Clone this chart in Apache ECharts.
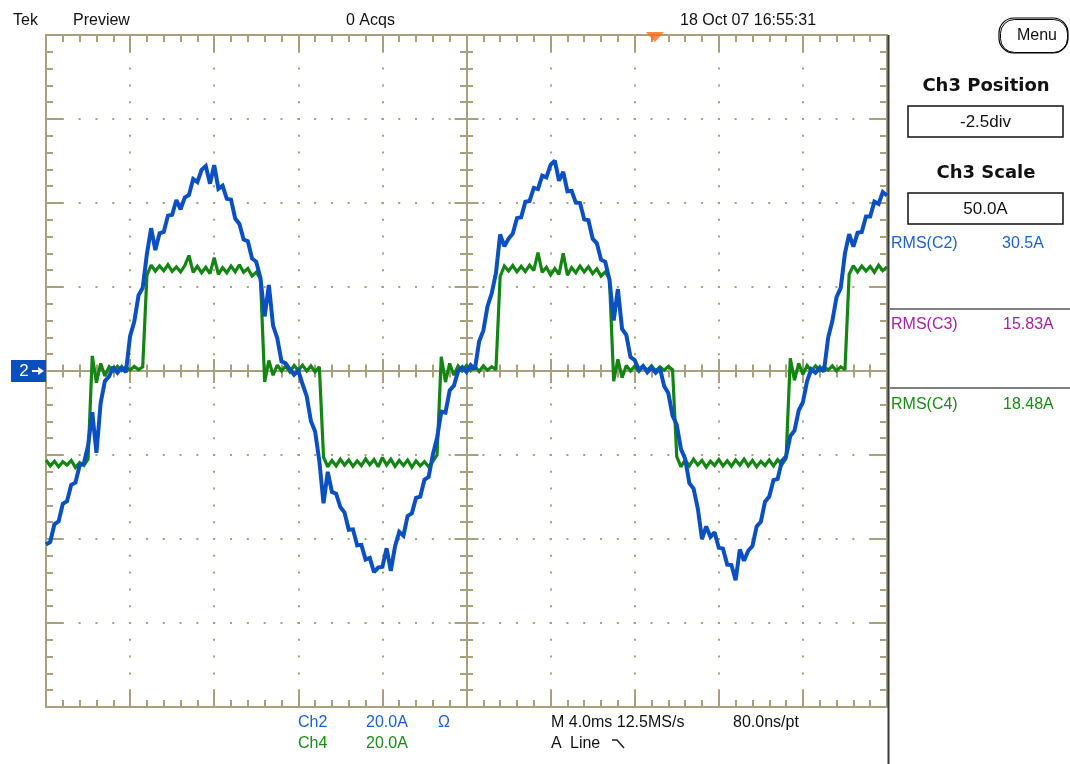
<!DOCTYPE html>
<html>
<head>
<meta charset="utf-8">
<script src="https://cdn.jsdelivr.net/npm/echarts@6/dist/echarts.min.js"></script>
<style>
html,body{margin:0;padding:0;background:#ffffff;}
#chart{width:1070px;height:764px;}
</style>
</head>
<body>
<div id="chart"></div>
<script>
// Sample times (ms), 0.2 ms apart across the 10-division, 4 ms/div screen
const timeMs = [
  0,0.2,0.4,0.6,0.8,1,1.2,1.4,1.6,1.8,
  2,2.2,2.4,2.6,2.8,3,3.2,3.4,3.6,3.8,
  4,4.2,4.4,4.6,4.8,5,5.2,5.4,5.6,5.8,
  6,6.2,6.4,6.6,6.8,7,7.2,7.4,7.6,7.8,
  8,8.2,8.4,8.6,8.8,9,9.2,9.4,9.6,9.8,
  10,10.2,10.4,10.6,10.8,11,11.2,11.4,11.6,11.8,
  12,12.2,12.4,12.6,12.8,13,13.2,13.4,13.6,13.8,
  14,14.2,14.4,14.6,14.8,15,15.2,15.4,15.6,15.8,
  16,16.2,16.4,16.6,16.8,17,17.2,17.4,17.6,17.8,
  18,18.2,18.4,18.6,18.8,19,19.2,19.4,19.6,19.8,
  20,20.2,20.4,20.6,20.8,21,21.2,21.4,21.6,21.8,
  22,22.2,22.4,22.6,22.8,23,23.2,23.4,23.6,23.8,
  24,24.2,24.4,24.6,24.8,25,25.2,25.4,25.6,25.8,
  26,26.2,26.4,26.6,26.8,27,27.2,27.4,27.6,27.8,
  28,28.2,28.4,28.6,28.8,29,29.2,29.4,29.6,29.8,
  30,30.2,30.4,30.6,30.8,31,31.2,31.4,31.6,31.8,
  32,32.2,32.4,32.6,32.8,33,33.2,33.4,33.6,33.8,
  34,34.2,34.4,34.6,34.8,35,35.2,35.4,35.6,35.8,
  36,36.2,36.4,36.6,36.8,37,37.2,37.4,37.6,37.8,
  38,38.2,38.4,38.6,38.8,39,39.2,39.4,39.6,39.8,
  40
];

// Ch2 current (A), blue trace
const ch2Amps = [
  -41.3,-40.7,-36.5,-35.8,-31.6,-31.0,-27.1,-26.6,-22.5,-22.0,
  -17.8,-9.8,-19.5,-7.6,-2.4,-1.3,1.0,-0.4,0.9,-0.3,
  8.3,11.8,18.0,19.8,27.9,34.0,28.8,32.8,33.1,37.0,
  37.2,40.7,38.5,41.3,41.9,45.7,45.0,47.9,48.8,44.6,
  49.0,43.4,44.1,41.0,40.8,36.3,35.0,31.3,30.9,26.8,
  26.0,22.1,13.0,20.5,10.8,7.8,2.3,1.8,0.4,-0.9,
  0.1,-3.1,-6.0,-11.9,-14.4,-21.4,-31.5,-24.0,-28.8,-29.2,
  -32.4,-33.7,-37.8,-37.7,-41.5,-41.4,-44.9,-44.5,-47.9,-46.8,
  -46.6,-42.2,-47.6,-41.8,-38.3,-39.2,-34.5,-33.9,-30.2,-29.9,
  -25.9,-25.2,-19.9,-15.9,-9.7,-9.9,-4.6,-3.5,-0.1,0.9,
  -0.2,1.4,0.4,7.0,9.6,15.4,18.5,23.3,32.5,29.7,
  31.5,32.7,36.4,36.6,40.3,40.5,43.6,43.3,46.5,46.1,
  49.1,50.1,45.3,47.4,42.8,42.9,40.1,40.0,36.1,35.9,
  31.5,30.4,26.5,26.0,21.7,12.0,19.5,10.0,8.6,3.3,
  2.6,0.3,1.2,-0.3,0.8,-0.4,0.7,-3.6,-5.3,-10.6,
  -12.8,-18.6,-20.9,-26.7,-28.0,-32.7,-40.0,-37.0,-39.5,-38.4,
  -42.1,-42.3,-46.1,-46.2,-49.8,-42.5,-45.2,-42.8,-41.7,-37.0,
  -35.9,-31.1,-29.9,-26.0,-25.7,-21.4,-20.3,-15.5,-14.2,-9.4,
  -7.4,-2.4,0.4,-0.4,0.8,-0.1,7.9,11.9,17.6,19.8,
  28.0,32.6,29.6,32.9,33.1,36.8,36.8,40.3,39.8,42.6,
  41.8
];

// Ch4 current (A), green trace
const ch4Amps = [
  -21.2,-22.6,-21.5,-22.8,-21.6,-22.4,-21.3,-23.0,-21.8,-22.5,
  -21.0,3.6,-2.8,1.8,-1.2,1.0,0.0,1.1,0.1,1.0,
  0.2,1.1,0.3,1.0,22.8,25.2,23.8,25.0,23.9,25.3,
  23.7,24.8,23.6,25.1,27.5,23.5,24.9,23.4,24.7,23.2,
  27.0,23.0,24.6,23.4,25.0,23.6,25.3,23.5,24.4,22.6,
  23.5,22.0,-2.6,2.5,-1.0,1.4,0.0,1.2,-0.2,1.3,
  0.1,1.4,0.0,1.2,-0.2,1.0,-20.5,-22.8,-21.3,-22.6,
  -21.0,-22.4,-21.2,-22.7,-21.4,-22.5,-20.9,-22.3,-21.1,-22.8,
  -20.6,-22.4,-21.0,-22.7,-21.3,-22.5,-21.2,-22.9,-21.4,-22.6,
  -21.6,-22.8,-21.5,-20.0,3.4,-2.6,1.8,-1.0,1.2,0.0,
  1.3,0.1,1.1,-0.1,1.2,0.2,1.0,0.3,22.5,25.0,
  23.8,25.1,23.6,24.9,23.7,25.2,23.9,28.2,23.5,24.7,
  22.9,24.4,23.0,28.0,22.8,24.6,23.4,25.0,23.6,24.8,
  23.2,24.3,22.6,23.6,22.0,-2.4,2.8,-1.6,1.3,0.0,
  1.2,-0.1,1.1,0.2,1.2,0.0,1.0,0.2,1.1,0.3,
  -20.4,-22.8,-21.2,-22.6,-21.0,-22.4,-21.3,-22.9,-21.5,-22.5,
  -21.1,-22.6,-21.4,-22.7,-21.2,-22.4,-21.0,-22.6,-21.3,-22.8,
  -21.5,-22.5,-21.2,-22.6,-21.1,-22.3,-20.8,3.0,-2.2,1.8,
  -0.8,1.3,0.0,1.2,0.1,1.1,0.2,1.2,0.0,1.0,
  0.3,23.0,25.1,23.6,25.0,23.8,24.9,23.5,25.2,23.9,
  24.8
];

// Trigger position (ms) shown by the orange marker on the top edge
const triggerTimeMs = [28.96];

// Axis ranges: 10 div x 4 ms, 8 div x 20 A
const timeRange = [0, 40];
const timeDiv = 4;
const ampRange = [-80, 80];
const ampDiv = 20;

const FRAME = '#a89f7c';
const FONT = '"Liberation Sans", Arial, sans-serif';
const BLUE_TXT = '#1d5fcf';
const GREEN_TXT = '#178a17';
const PURPLE_TXT = '#a3229f';

function tickAxis(base, opts) {
  return Object.assign({
    type: 'value',
    min: base[0], max: base[1], interval: base[2],
    axisLabel: { show: false },
    splitLine: { show: false },
    minorSplitLine: { show: false },
    axisLine: { show: true, onZero: false, lineStyle: { color: FRAME, width: 2 } },
    axisTick: { show: true, inside: true, length: 17, lineStyle: { color: FRAME, width: 2 } },
    minorTick: { show: true, splitNumber: 5, length: 7, lineStyle: { color: FRAME, width: 2 } }
  }, opts);
}
const xb = [timeRange[0], timeRange[1], timeDiv];
const yb = [ampRange[0], ampRange[1], ampDiv];

const centerLine = (axisIdx) => ({ show: true, onZero: true, onZeroAxisIndex: axisIdx, lineStyle: { color: FRAME, width: 2 } });
const centerTick = { show: true, inside: true, length: 12, lineStyle: { color: FRAME, width: 2 } };
const centerMinor = { show: true, splitNumber: 5, length: 6.5, lineStyle: { color: FRAME, width: 2 } };

function txt(x, y, text, fill, size, extra) {
  return Object.assign({
    type: 'text', x: x, y: y, silent: true, z: 100,
    style: Object.assign({
      text: text, fill: fill || '#111', font: (size || 16) + 'px ' + FONT,
      align: 'left', verticalAlign: 'middle', textAlign: 'left', textVerticalAlign: 'middle'
    }, extra || {})
  });
}
function ctxt(x, y, text, fill, font) {
  return {
    type: 'text', x: x, y: y, silent: true, z: 100,
    style: { text: text, fill: fill || '#111', font: font,
      align: 'center', verticalAlign: 'middle', textAlign: 'center', textVerticalAlign: 'middle' }
  };
}

const chart = echarts.init(document.getElementById('chart'), null, { renderer: 'canvas' });

chart.setOption({
  animation: false,
  backgroundColor: '#ffffff',
  grid: { left: 46, top: 35, width: 841, height: 672, containLabel: false, outerBoundsMode: 'none', show: false },
  xAxis: [
    tickAxis(xb, { position: 'bottom',
      splitLine: { show: true, lineStyle: { color: FRAME, width: 2, type: [2, 14.8], dashOffset: 1 } } }),
    tickAxis(xb, { position: 'top' }),
    tickAxis(xb, { position: 'bottom', axisLine: centerLine(0), axisTick: centerTick, minorTick: centerMinor }),
    tickAxis(xb, { position: 'top', axisLine: centerLine(0), axisTick: centerTick, minorTick: centerMinor }),
    { type: 'value', min: -timeRange[1] / 2, max: timeRange[1] / 2, show: false }
  ],
  yAxis: [
    tickAxis(yb, { position: 'left',
      splitLine: { show: true, lineStyle: { color: FRAME, width: 2, type: [2, 14.82], dashOffset: 1 } } }),
    tickAxis(yb, { position: 'right' }),
    tickAxis(yb, { position: 'left', axisLine: centerLine(4), axisTick: centerTick, minorTick: centerMinor }),
    tickAxis(yb, { position: 'right', axisLine: centerLine(4), axisTick: centerTick, minorTick: centerMinor })
  ],
  series: [
    {
      name: 'Ch4', type: 'line', xAxisIndex: 0, yAxisIndex: 0,
      data: timeMs.map((t, i) => [t, ch4Amps[i]]),
      symbol: 'none', showSymbol: false, z: 3,
      lineStyle: { color: '#128512', width: 3.2, join: 'miter', miterLimit: 2 }
    },
    {
      name: 'Ch2', type: 'line', xAxisIndex: 0, yAxisIndex: 0,
      data: timeMs.map((t, i) => [t, ch2Amps[i]]),
      symbol: 'none', showSymbol: false, z: 4,
      lineStyle: { color: '#0b50c2', width: 4, join: 'miter', miterLimit: 2 }
    },
    {
      name: 'Trigger', type: 'scatter', xAxisIndex: 0, yAxisIndex: 0,
      data: triggerTimeMs.map(t => [t, ampRange[1]]),
      symbol: 'triangle', symbolSize: [18, 10], symbolRotate: 180, symbolOffset: [0, 2],
      itemStyle: { color: '#ff6a14' }, clip: false, z: 6, silent: true
    }
  ],
  graphic: [
    // header
    txt(13, 21, 'Tek'),
    txt(73, 21, 'Preview'),
    txt(346, 21, '0 Acqs'),
    txt(680, 21, '18 Oct 07 16:55:31'),
    // Menu button
    { type: 'rect', shape: { x: 999, y: 18, width: 69, height: 35, r: 15 }, style: { fill: '#fff', stroke: '#000', lineWidth: 1.2 }, z: 99, silent: true },
    { type: 'rect', shape: { x: 1000.5, y: 19.5, width: 67, height: 33, r: 14 }, style: { fill: 'none', stroke: '#000', lineWidth: 1 }, z: 99, silent: true },
    ctxt(1037, 36, 'Menu', '#111', '16px ' + FONT),
    // right panel separator
    { type: 'line', shape: { x1: 888.5, y1: 35, x2: 888.5, y2: 764 }, style: { stroke: '#3a3a3a', lineWidth: 2 }, z: 99, silent: true },
    ctxt(986, 86, 'Ch3 Position', '#111', 'bold 18px "DejaVu Sans", ' + FONT),
    { type: 'rect', shape: { x: 908, y: 106, width: 155, height: 31 }, style: { fill: '#fff', stroke: '#111', lineWidth: 1.5 }, z: 99, silent: true },
    ctxt(985.5, 122, '-2.5div', '#111', '17px ' + FONT),
    ctxt(986, 173, 'Ch3 Scale', '#111', 'bold 18px "DejaVu Sans", ' + FONT),
    { type: 'rect', shape: { x: 908, y: 193, width: 155, height: 31 }, style: { fill: '#fff', stroke: '#111', lineWidth: 1.5 }, z: 99, silent: true },
    ctxt(985.5, 209, '50.0A', '#111', '17px ' + FONT),
    txt(891, 244, 'RMS(C2)', BLUE_TXT),
    txt(1002, 244, '30.5A', BLUE_TXT),
    { type: 'line', shape: { x1: 890, y1: 309, x2: 1070, y2: 309 }, style: { stroke: '#555', lineWidth: 1.5 }, z: 99, silent: true },
    txt(891, 325, 'RMS(C3)', PURPLE_TXT),
    txt(1003, 325, '15.83A', PURPLE_TXT),
    { type: 'line', shape: { x1: 890, y1: 388, x2: 1070, y2: 388 }, style: { stroke: '#555', lineWidth: 1.5 }, z: 99, silent: true },
    txt(891, 405, 'RMS(C4)', GREEN_TXT),
    txt(1003, 405, '18.48A', GREEN_TXT),
    // bottom readouts
    txt(298, 723, 'Ch2', BLUE_TXT),
    txt(366, 723, '20.0A', BLUE_TXT),
    txt(438, 723, 'Ω', BLUE_TXT),
    txt(298, 744, 'Ch4', GREEN_TXT),
    txt(366, 744, '20.0A', GREEN_TXT),
    txt(551, 723, 'M 4.0ms 12.5MS/s'),
    txt(733, 723, '80.0ns/pt'),
    txt(551, 744, 'A'),
    txt(570, 744, 'Line'),
    { type: 'polyline', shape: { points: [[612, 740], [617, 740], [624, 748]] }, style: { stroke: '#222', lineWidth: 1.5, fill: 'none' }, z: 99, silent: true },
    // channel 2 ground marker
    { type: 'rect', shape: { x: 11, y: 360, width: 35, height: 22 }, style: { fill: '#0b4fbf' }, z: 99, silent: true },
    ctxt(24, 371.5, '2', '#fff', '17px ' + FONT),
    { type: 'line', shape: { x1: 32, y1: 371, x2: 41, y2: 371 }, style: { stroke: '#fff', lineWidth: 2 }, z: 100, silent: true },
    { type: 'polygon', shape: { points: [[38, 367], [44, 371], [38, 375]] }, style: { fill: '#fff' }, z: 100, silent: true }
  ]
});
</script>
</body>
</html>
